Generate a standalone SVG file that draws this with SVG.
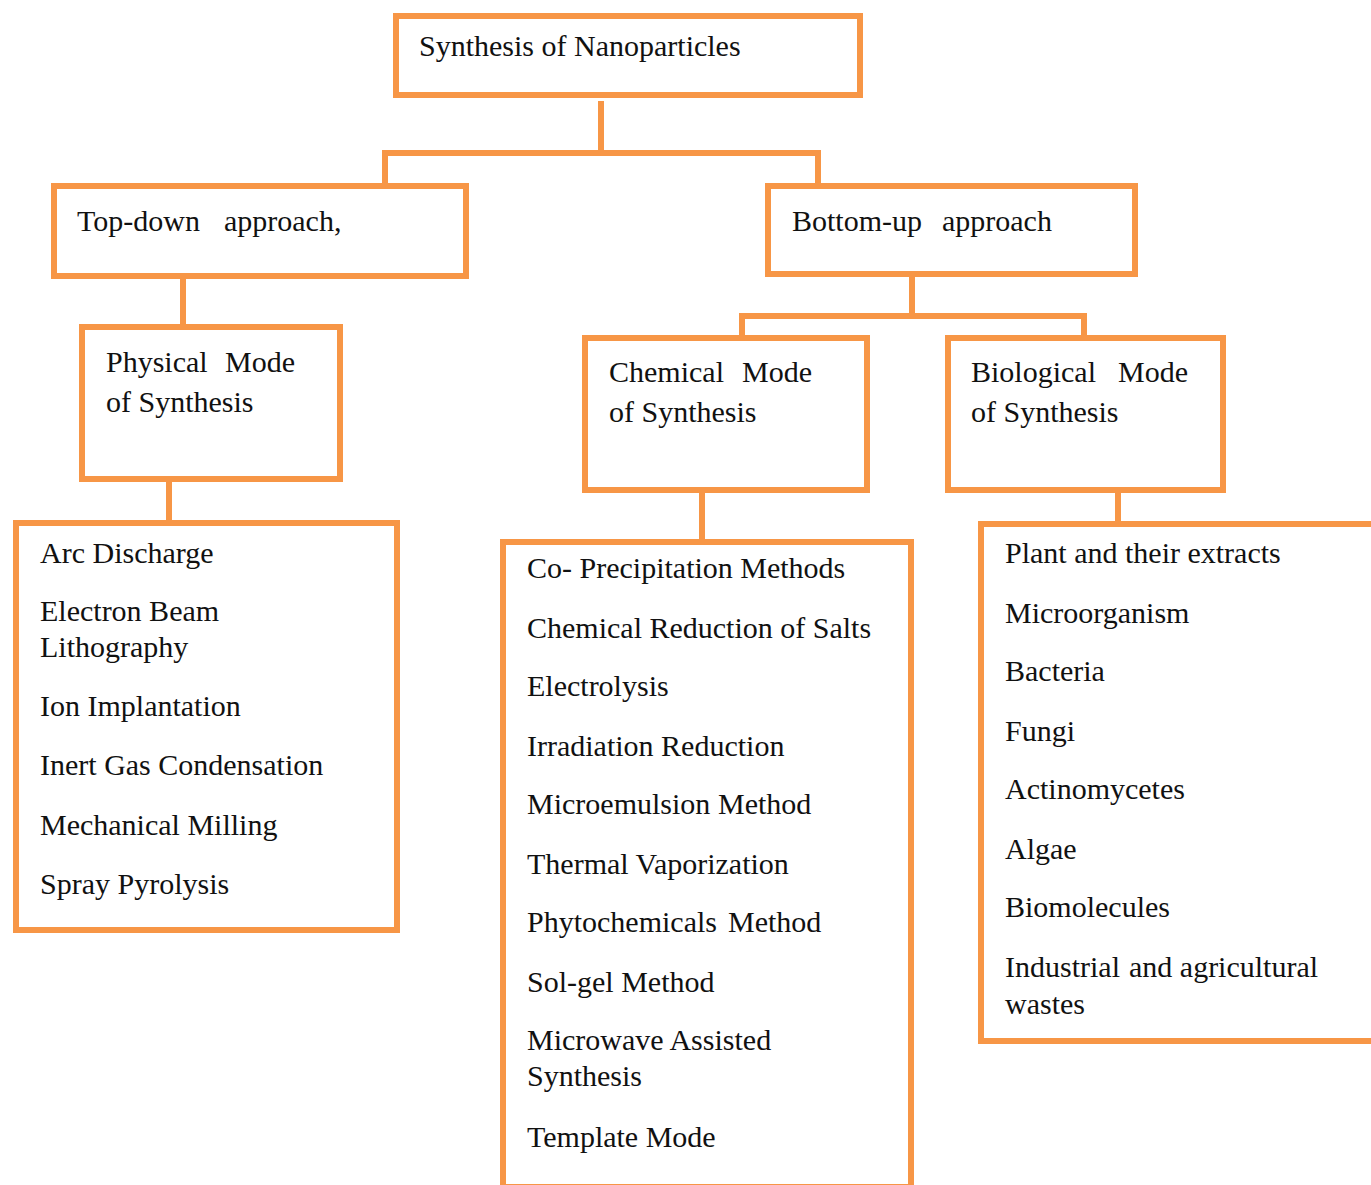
<svg xmlns="http://www.w3.org/2000/svg" width="1371" height="1185" viewBox="0 0 1371 1185">
<style>
.box{fill:#ffffff;stroke:#F79646;stroke-width:6}
.con{fill:none;stroke:#F79646;stroke-width:6}
text{font-family:"Liberation Serif","Times New Roman",serif;font-size:30px;fill:#111111}
</style>
<rect x="0" y="0" width="1371" height="1185" fill="#ffffff"/>
<g id="connectors">
<path class="con" d="M601,101 V153 M385,183 V153 H818 V183"/>
<path class="con" d="M183,279 V324"/>
<path class="con" d="M169,482 V520"/>
<path class="con" d="M912,277 V316 M742,336 V316 H1084 V336"/>
<path class="con" d="M702,493 V539"/>
<path class="con" d="M1118,493 V521"/>
</g>
<g id="node-root">
<rect class="box" x="396" y="16" width="464" height="79"/>
<text x="419" y="56">Synthesis of Nanoparticles</text>
</g>
<g id="node-topdown">
<rect class="box" x="54" y="186" width="412" height="90"/>
<text x="77" y="231">Top-down<tspan x="224">approach,</tspan></text>
</g>
<g id="node-bottomup">
<rect class="box" x="768" y="186" width="367" height="88"/>
<text x="792" y="231">Bottom-up<tspan x="942">approach</tspan></text>
</g>
<g id="node-physical">
<rect class="box" x="82" y="327" width="258" height="152"/>
<text x="106" y="372">Physical<tspan x="225">Mode</tspan></text>
<text x="106" y="412">of Synthesis</text>
</g>
<g id="node-chemical">
<rect class="box" x="585" y="338" width="282" height="152"/>
<text x="609" y="382">Chemical<tspan x="742">Mode</tspan></text>
<text x="609" y="422">of Synthesis</text>
</g>
<g id="node-biological">
<rect class="box" x="948" y="338" width="275" height="152"/>
<text x="971" y="382">Biological<tspan x="1118">Mode</tspan></text>
<text x="971" y="422">of Synthesis</text>
</g>
<g id="node-physical-list">
<rect class="box" x="16" y="523" width="381" height="407"/>
<text x="40" y="563">Arc Discharge</text>
<text x="40" y="621">Electron Beam</text>
<text x="40" y="657">Lithography</text>
<text x="40" y="716">Ion Implantation</text>
<text x="40" y="775">Inert Gas Condensation</text>
<text x="40" y="835">Mechanical Milling</text>
<text x="40" y="894">Spray Pyrolysis</text>
</g>
<g id="node-chemical-list">
<rect class="box" x="503" y="542" width="408" height="645"/>
<text x="527" y="578">Co- Precipitation Methods</text>
<text x="527" y="638">Chemical Reduction of Salts</text>
<text x="527" y="696">Electrolysis</text>
<text x="527" y="756">Irradiation Reduction</text>
<text x="527" y="814">Microemulsion<tspan x="718">Method</tspan></text>
<text x="527" y="874">Thermal Vaporization</text>
<text x="527" y="932">Phytochemicals<tspan x="728">Method</tspan></text>
<text x="527" y="992">Sol-gel Method</text>
<text x="527" y="1050">Microwave Assisted</text>
<text x="527" y="1086">Synthesis</text>
<text x="527" y="1147">Template Mode</text>
</g>
<g id="node-biological-list">
<rect class="box" x="981" y="524" width="400" height="517"/>
<text x="1005" y="563">Plant and their extracts</text>
<text x="1005" y="623">Microorganism</text>
<text x="1005" y="681">Bacteria</text>
<text x="1005" y="741">Fungi</text>
<text x="1005" y="799">Actinomycetes</text>
<text x="1005" y="859">Algae</text>
<text x="1005" y="917">Biomolecules</text>
<text x="1005" y="977">Industrial<tspan x="1129">and agricultural</tspan></text>
<text x="1005" y="1014">wastes</text>
</g>
</svg>
